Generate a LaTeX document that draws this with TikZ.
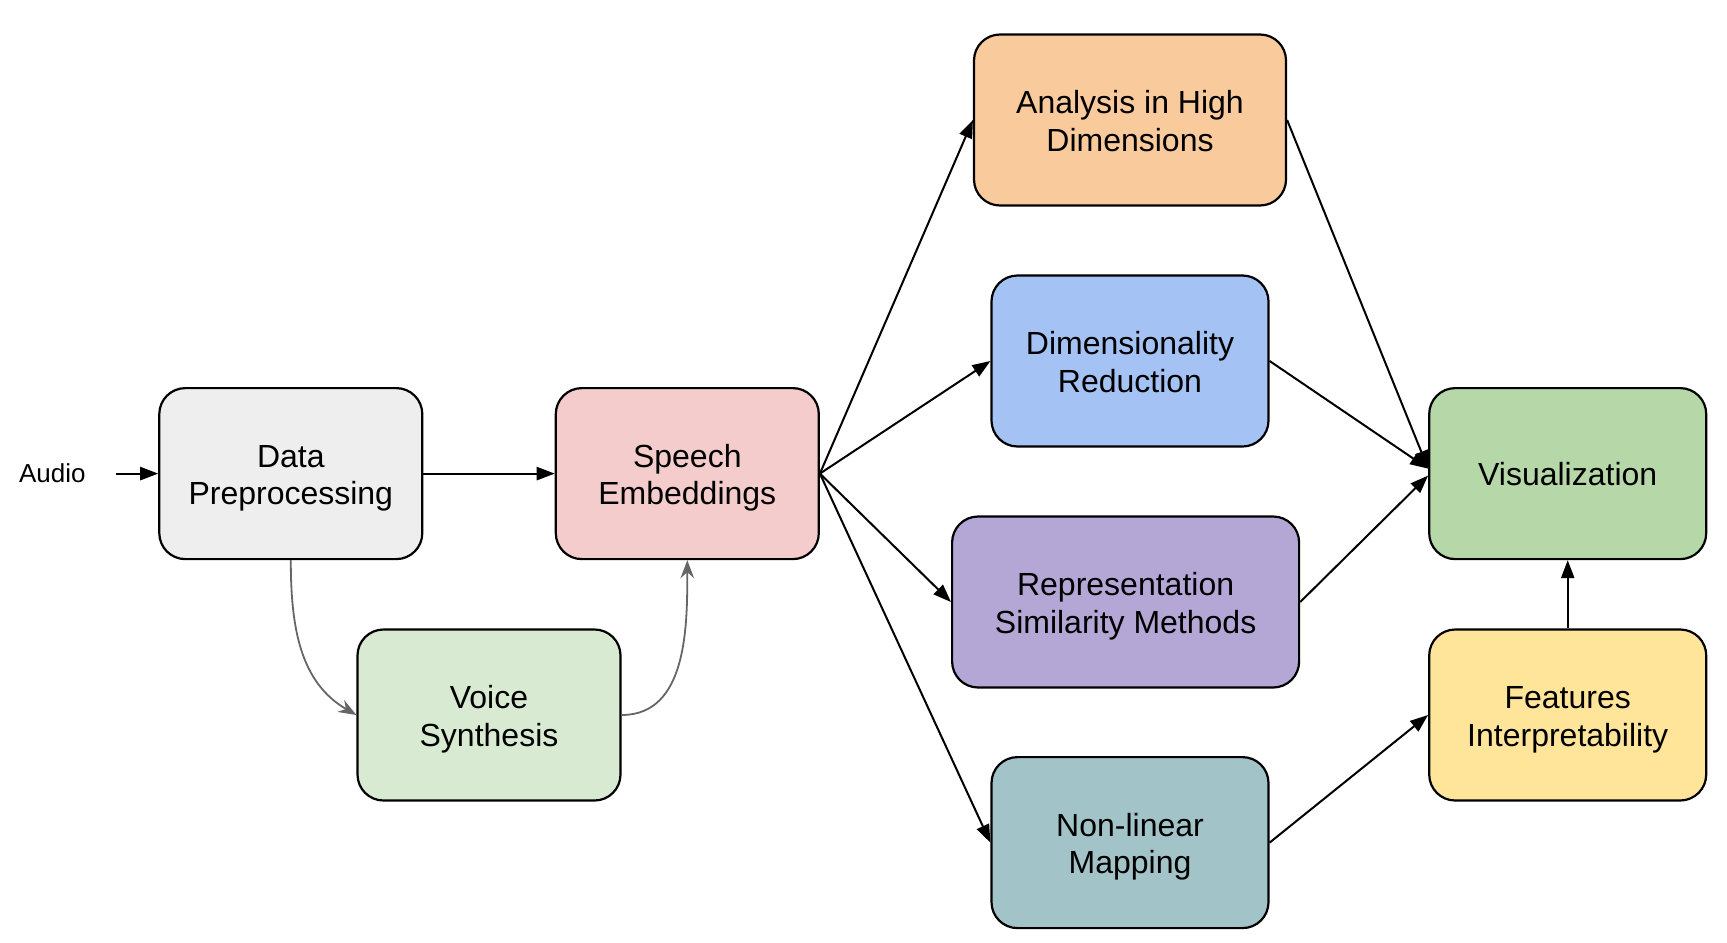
\documentclass[tikz,border=0pt]{standalone}
\usepackage{fontspec}
\setmainfont{Liberation Sans}
\usepackage{xcolor}
\usepackage{tikz}
\usetikzlibrary{arrows.meta}
\tikzset{>={Triangle[length=9pt, width=6.6pt]}}

\definecolor{preGray}{HTML}{EEEEEE}
\definecolor{embRed}{HTML}{F4CCCC}
\definecolor{synGreen}{HTML}{D9EAD3}
\definecolor{highOrange}{HTML}{F9CB9C}
\definecolor{redBlue}{HTML}{A4C2F4}
\definecolor{simPurple}{HTML}{B4A7D6}
\definecolor{mapTeal}{HTML}{A2C4C9}
\definecolor{visGreen}{HTML}{B6D7A8}
\definecolor{featYellow}{HTML}{FFE599}
\definecolor{curveGray}{HTML}{666666}

\begin{document}
\begin{tikzpicture}[x=0.5pt, y=-0.5pt,
    block/.style={draw=black, line width=1.1pt, rounded corners=13pt, align=center,
        font=\fontsize{16}{18.75}\selectfont, minimum height=85.5pt, inner sep=0pt},
    twoline/.style={text height=34.65pt, text depth=3.45pt},
    link/.style={->, line width=1pt},
    curvelink/.style={-{Stealth[length=9pt, width=6.8pt, inset=3pt]}, curveGray, line width=0.9pt}]

    \useasboundingbox (0, 0) rectangle (1727, 942);

    % input side
    \node[font=\fontsize{13}{15}\selectfont, inner xsep=15pt] (audio) at (52.4, 473.6) {Audio};
    \node[block, twoline, fill=preGray, minimum width=131.5pt] (prep) at (290.8, 473.6) {Data\\Preprocessing};
    \node[block, twoline, fill=embRed, minimum width=131.5pt] (emb) at (687.3, 473.6) {Speech\\Embeddings};
    \node[block, twoline, fill=synGreen, minimum width=131.5pt] (synth) at (489, 715) {Voice\\Synthesis};

    % analysis methods
    \node[block, twoline, fill=highOrange, minimum width=156pt] (high) at (1130, 120) {Analysis in High\\Dimensions};
    \node[block, twoline, fill=redBlue, minimum width=138.5pt] (dimred) at (1130, 361) {Dimensionality\\Reduction};
    \node[block, twoline, fill=simPurple, minimum width=173.5pt] (sim) at (1125.6, 602) {Representation\\Similarity Methods};
    \node[block, twoline, fill=mapTeal, minimum width=138.5pt] (nonlin) at (1130, 842.6) {Non-linear\\Mapping};

    % outputs
    \node[block, fill=visGreen, minimum width=138.5pt] (vis) at (1567.7, 473.6) {Visualization};
    \node[block, twoline, fill=featYellow, minimum width=138.5pt] (feat) at (1567.7, 715) {Features\\Interpretability};

    % connectors
    \draw[link] (audio) -- (prep);
    \draw[link] (prep) -- (emb);
    \draw[curvelink] (prep.south) to[out=-90, in=150] (synth.west);
    \draw[curvelink] (synth.east) to[out=0, in=-90] (emb.south);

    \foreach \m in {high, dimred, sim, nonlin}{
            \draw[link] (emb.east) -- (\m.west);
        }
    \foreach \m in {high, dimred}{
            \draw[link] (\m.east) -- ([yshift=2.5pt]vis.west);
        }
    \draw[link] (sim.east) -- ([yshift=-1pt]vis.west);
    \draw[link] (nonlin.east) -- (feat.west);
    \draw[link] (feat) -- (vis);

\end{tikzpicture}
\end{document}
